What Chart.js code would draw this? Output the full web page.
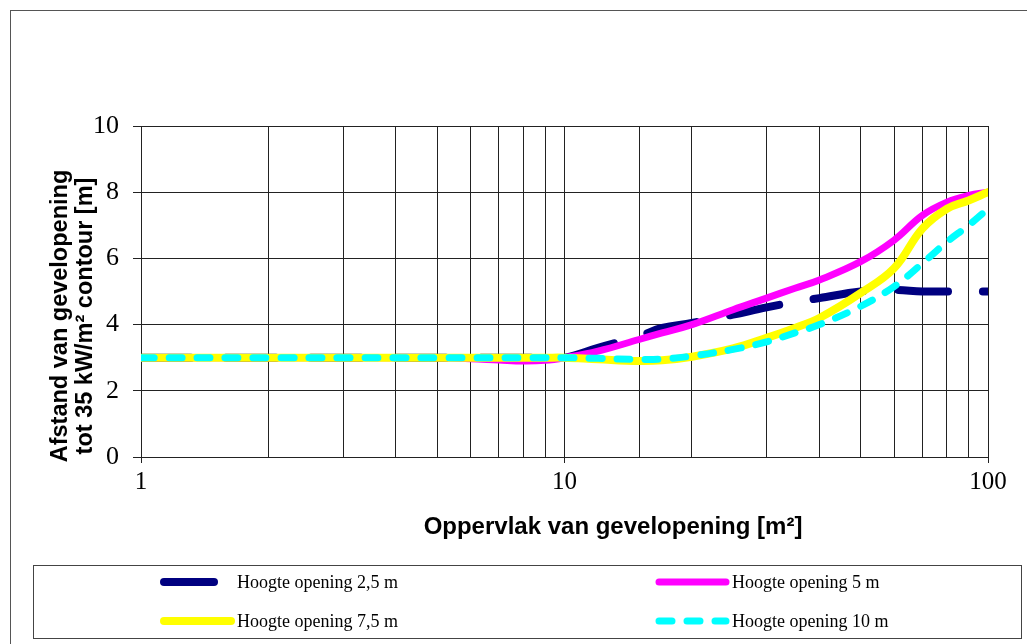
<!DOCTYPE html>
<html>
<head>
<meta charset="utf-8">
<script src="https://cdn.jsdelivr.net/npm/chart.js@4.4.0/dist/chart.umd.min.js"></script>
<style>
  html, body { margin: 0; padding: 0; background: #fff; }
  #wrap { position: relative; width: 1027px; height: 644px; }
</style>
</head>
<body>
<div id="wrap"><canvas id="chart"></canvas></div>
<script>
// oppervlak van gevelopening [m2]
const areas = [1, 2, 3, 4, 5, 6, 7, 8, 9, 10, 12, 15, 17, 20, 25, 30, 35, 40, 50, 60, 70, 80, 90, 100];

// afstand tot 35 kW/m2 contour [m], per hoogte opening
const height25 = [3, 3, 3, 3, 3, 3, 3, 3, 3, 3, 3.3, 3.65, 3.9, 4.05, 4.3, 4.52, 4.68, 4.8, 5.0, 5.05, 5.0, 5.0, 5.0, 5.0];
const height5 = [3, 3, 3, 3, 3, 2.97, 2.93, 2.9, 2.92, 3.0, 3.2, 3.55, 3.75, 4.0, 4.45, 4.8, 5.1, 5.35, 5.9, 6.55, 7.3, 7.7, 7.9, 8.0];
const height75 = [3, 3, 3, 3, 3, 3, 3, 3, 3, 3, 2.95, 2.9, 2.92, 3.03, 3.28, 3.6, 3.9, 4.2, 4.95, 5.7, 6.9, 7.5, 7.75, 8.0];
const height10 = [3, 3, 3, 3, 3, 3, 3, 3, 3, 3, 2.98, 2.95, 2.96, 3.05, 3.25, 3.48, 3.75, 4.0, 4.55, 5.15, 5.85, 6.5, 7.0, 7.5];

const seriesLabels = ['Hoogte opening 2,5 m', 'Hoogte opening 5 m', 'Hoogte opening 7,5 m', 'Hoogte opening 10 m'];
const xLabelTicks = [1, 10, 100];
const yTitleLines = ['Afstand van gevelopening', 'tot 35 kW/m\u00b2 contour [m]'];
const xTitle = 'Oppervlak van gevelopening [m\u00b2]';

const toPoints = arr => areas.map((x, i) => ({ x: x, y: arr[i] }));

const serif = '"Liberation Serif", "Times New Roman", serif';
const sans = '"Liberation Sans", Arial, sans-serif';
const gridColor = '#222';

// frame, axis titles and legend box like the Excel original
const decorPlugin = {
  id: 'decor',
  afterDraw(chart) {
    const ctx = chart.ctx;
    ctx.save();

    // outer frame
    ctx.strokeStyle = '#555';
    ctx.lineWidth = 1;
    ctx.strokeRect(10.5, 10.5, 1040, 660);

    // y title, two rotated lines
    ctx.fillStyle = '#000';
    ctx.font = 'bold 23.5px ' + sans;
    ctx.textAlign = 'center';
    ctx.textBaseline = 'middle';
    ctx.save();
    ctx.translate(61, 316);
    ctx.rotate(-Math.PI / 2);
    ctx.fillText(yTitleLines[0], 0, 0);
    ctx.fillText(yTitleLines[1], 0, 25);
    ctx.restore();

    // x title
    ctx.font = 'bold 24px ' + sans;
    ctx.fillText(xTitle, 613, 527);

    // legend box
    ctx.strokeStyle = '#444';
    ctx.strokeRect(33.5, 565.5, 988, 73);

    const slots = [
      { sx: 164, tx: 237, y: 582 },
      { sx: 659, tx: 732, y: 582 },
      { sx: 164, tx: 237, y: 621 },
      { sx: 659, tx: 732, y: 621 }
    ];
    chart.data.datasets.forEach((ds, i) => {
      const s = slots[i];
      ctx.save();
      ctx.strokeStyle = ds.borderColor;
      ctx.lineWidth = ds.borderWidth;
      ctx.lineCap = 'round';
      ctx.setLineDash(ds.borderDash || []);
      ctx.beginPath();
      ctx.moveTo(s.sx, s.y);
      ctx.lineTo(s.sx + 67, s.y);
      ctx.stroke();
      ctx.restore();
      ctx.fillStyle = '#000';
      ctx.font = '18px ' + serif;
      ctx.textAlign = 'left';
      ctx.textBaseline = 'middle';
      ctx.fillText(ds.label, s.tx, s.y + 1);
    });

    ctx.restore();
  }
};

new Chart(document.getElementById('chart'), {
  type: 'line',
  data: {
    datasets: [
      {
        label: seriesLabels[0],
        data: toPoints(height25),
        borderColor: '#000080',
        borderWidth: 8,
        borderDash: [50, 35],
        order: 4
      },
      {
        label: seriesLabels[1],
        data: toPoints(height5),
        borderColor: '#ff00ff',
        borderWidth: 7,
        order: 3
      },
      {
        label: seriesLabels[2],
        data: toPoints(height75),
        borderColor: '#ffff00',
        borderWidth: 8,
        order: 2
      },
      {
        label: seriesLabels[3],
        data: toPoints(height10),
        borderColor: '#00ffff',
        borderWidth: 7,
        borderDash: [13, 15],
        order: 1
      }
    ]
  },
  options: {
    responsive: true,
    maintainAspectRatio: false,
    animation: false,
    layout: {
      padding: { left: 0, top: 126, right: 39, bottom: 127 }
    },
    elements: {
      point: { radius: 0 },
      line: { tension: 0.4, borderCapStyle: 'round', borderJoinStyle: 'round', fill: false }
    },
    plugins: {
      legend: { display: false },
      tooltip: { enabled: false }
    },
    scales: {
      x: {
        type: 'logarithmic',
        min: 1,
        max: 100,
        afterFit: scale => { scale.height = 60; },
        border: { display: true, color: gridColor, width: 1 },
        grid: {
          color: gridColor,
          lineWidth: 1,
          tickLength: 6,
          tickColor: c => (c.tick && xLabelTicks.includes(c.tick.value)) ? gridColor : 'rgba(0,0,0,0)'
        },
        ticks: {
          autoSkip: false,
          maxRotation: 0,
          padding: 4,
          color: '#000',
          font: { family: serif, size: 25 },
          callback: value => xLabelTicks.includes(value) ? String(value) : ''
        },
        title: { display: false, text: xTitle }
      },
      y: {
        min: 0,
        max: 10,
        afterFit: scale => { scale.width = 141; },
        border: { display: true, color: gridColor, width: 1 },
        grid: { color: gridColor, lineWidth: 1, tickLength: 8 },
        ticks: {
          stepSize: 2,
          padding: 14,
          color: '#000',
          font: { family: serif, size: 26 }
        },
        title: { display: false, text: yTitleLines }
      }
    }
  },
  plugins: [decorPlugin]
});
</script>
</body>
</html>
